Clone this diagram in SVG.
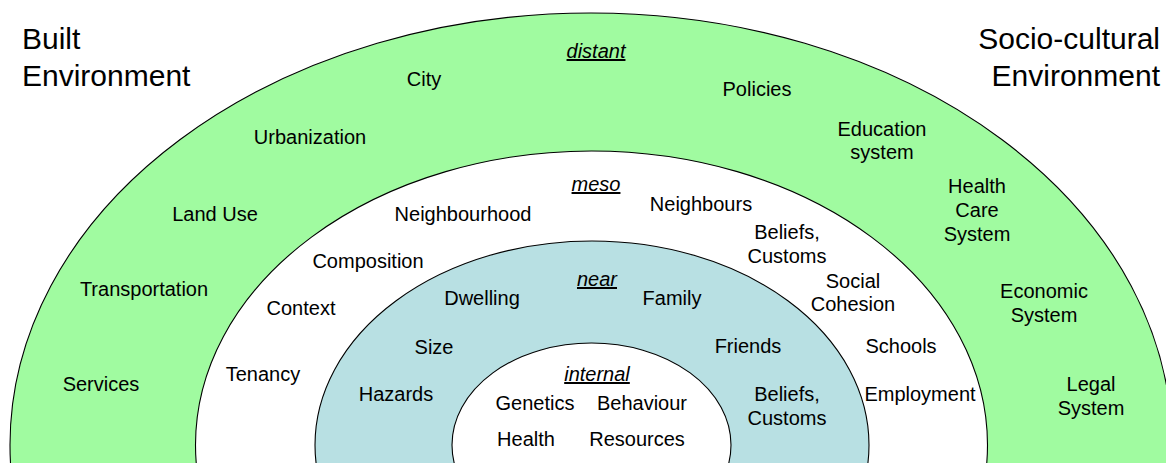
<svg xmlns="http://www.w3.org/2000/svg" width="1166" height="463" viewBox="0 0 1166 463">
<style>
  .ring { stroke: #000; stroke-width: 1.1; }
  .lbl { font-family: "Liberation Sans", Arial, sans-serif; font-size: 20px; fill: #000; text-anchor: middle; }
  .big { font-family: "Liberation Sans", Arial, sans-serif; font-size: 30px; fill: #000; }
  .lvl { font-style: italic; text-decoration: underline; }
</style>
<rect x="0" y="0" width="1166" height="463" fill="#fff"/>
<g id="distant">
  <ellipse class="ring" cx="591" cy="445" rx="581" ry="432" fill="#A0FBA0"/>
  <text class="lbl lvl" x="596" y="58">distant</text>
  <text class="lbl" x="424" y="86">City</text>
  <text class="lbl" x="757" y="96">Policies</text>
  <text class="lbl" x="310" y="144">Urbanization</text>
  <text class="lbl" x="882" y="136">Education</text>
  <text class="lbl" x="882" y="159">system</text>
  <text class="lbl" x="215" y="221">Land Use</text>
  <text class="lbl" x="977" y="193">Health</text>
  <text class="lbl" x="977" y="217">Care</text>
  <text class="lbl" x="977" y="241">System</text>
  <text class="lbl" x="144" y="296">Transportation</text>
  <text class="lbl" x="1044" y="298">Economic</text>
  <text class="lbl" x="1044" y="322">System</text>
  <text class="lbl" x="101" y="391">Services</text>
  <text class="lbl" x="1091" y="391">Legal</text>
  <text class="lbl" x="1091" y="415">System</text>
</g>
<g id="meso">
  <ellipse class="ring" cx="591.5" cy="445" rx="396" ry="294" fill="#fff"/>
  <text class="lbl lvl" x="596" y="191">meso</text>
  <text class="lbl" x="463" y="221">Neighbourhood</text>
  <text class="lbl" x="701" y="211">Neighbours</text>
  <text class="lbl" x="787" y="239">Beliefs,</text>
  <text class="lbl" x="787" y="263">Customs</text>
  <text class="lbl" x="368" y="268">Composition</text>
  <text class="lbl" x="853" y="288">Social</text>
  <text class="lbl" x="853" y="311">Cohesion</text>
  <text class="lbl" x="301" y="315">Context</text>
  <text class="lbl" x="901" y="353">Schools</text>
  <text class="lbl" x="263" y="381">Tenancy</text>
  <text class="lbl" x="920" y="401">Employment</text>
</g>
<g id="near">
  <ellipse class="ring" cx="592" cy="445" rx="277" ry="204" fill="#B8E0E3"/>
  <text class="lbl lvl" x="597" y="286">near</text>
  <text class="lbl" x="482" y="305">Dwelling</text>
  <text class="lbl" x="672" y="305">Family</text>
  <text class="lbl" x="434" y="354">Size</text>
  <text class="lbl" x="748" y="353">Friends</text>
  <text class="lbl" x="396" y="401">Hazards</text>
  <text class="lbl" x="787" y="401">Beliefs,</text>
  <text class="lbl" x="787" y="425">Customs</text>
</g>
<g id="internal">
  <ellipse class="ring" cx="591.5" cy="445" rx="139.5" ry="102" fill="#fff"/>
  <text class="lbl lvl" x="597" y="381">internal</text>
  <text class="lbl" x="535" y="410">Genetics</text>
  <text class="lbl" x="642" y="410">Behaviour</text>
  <text class="lbl" x="526" y="446">Health</text>
  <text class="lbl" x="637" y="446">Resources</text>
</g>
<g id="built-environment">
  <text class="big" x="22" y="49">Built</text>
  <text class="big" x="22" y="86">Environment</text>
</g>
<g id="socio-cultural-environment">
  <text class="big" x="1160" y="49" text-anchor="end">Socio-cultural</text>
  <text class="big" x="1160" y="86" text-anchor="end">Environment</text>
</g>
</svg>
